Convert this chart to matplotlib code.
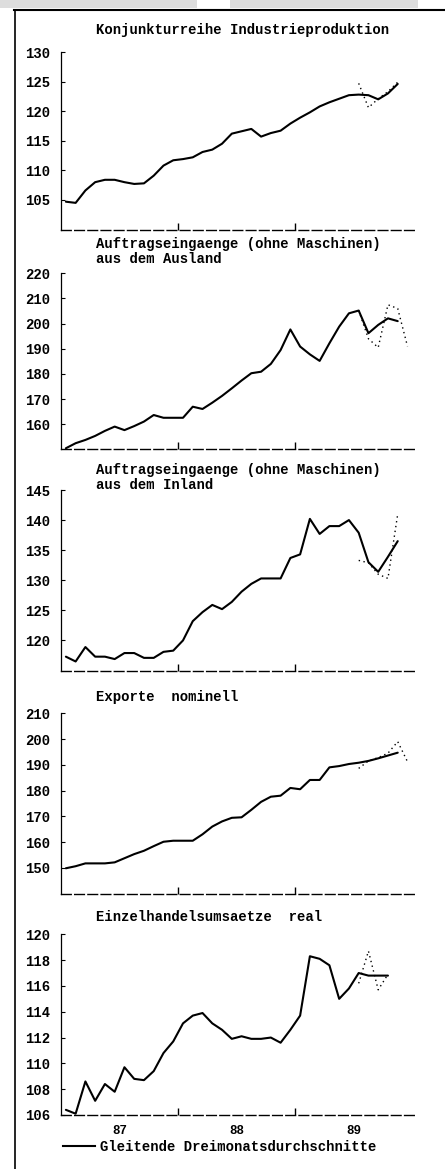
import matplotlib
matplotlib.use('Agg')
import matplotlib.pyplot as plt
from matplotlib.lines import Line2D
from matplotlib.patches import Rectangle

W, H, DPI = 445, 1169, 100
plt.rcParams['font.family'] = ['Liberation Mono', 'DejaVu Sans Mono']
plt.rcParams['font.weight'] = 'bold'
FS = 10

# ---------------- data (month index 0 = Jan 87) ----------------
year_labels = ['87', '88', '89']
legend_label = 'Gleitende Dreimonatsdurchschnitte'

title_ip = ['Konjunkturreihe Industrieproduktion']
ip_avg = [104.7, 104.5, 106.6, 108.0, 108.4, 108.4, 108.0, 107.7, 107.8, 109.1,
          110.8, 111.7, 111.9, 112.2, 113.1, 113.5, 114.5, 116.2, 116.6, 117.0,
          115.7, 116.3, 116.7, 117.9, 118.9, 119.8, 120.8, 121.5, 122.1, 122.7,
          122.8, 122.7, 122.0, 123.0, 124.6]
ip_month_start = 30
ip_monthly = [124.7, 120.6, 122.1, 123.3, 124.9]

title_ausl = ['Auftragseingaenge (ohne Maschinen)', 'aus dem Ausland']
ausl_avg = [150.5, 152.5, 153.8, 155.4, 157.4, 159.1, 157.7, 159.3, 161.1, 163.7,
            162.6, 162.6, 162.6, 167.0, 166.1, 168.6, 171.3, 174.3, 177.4, 180.3,
            180.9, 184.0, 189.5, 197.7, 190.9, 187.8, 185.2, 192.2, 198.8, 204.1,
            205.2, 196.2, 199.5, 202.1, 201.0]
ausl_month_start = 30
ausl_monthly = [205.2, 194.0, 190.5, 207.5, 206.0, 191.0]

title_inl = ['Auftragseingaenge (ohne Maschinen)', 'aus dem Inland']
inl_avg = [117.3, 116.5, 118.9, 117.3, 117.3, 116.9, 117.9, 117.9, 117.1, 117.1,
           118.1, 118.3, 120.0, 123.2, 124.7, 125.9, 125.2, 126.4, 128.1, 129.4,
           130.3, 130.3, 130.3, 133.7, 134.3, 140.2, 137.7, 139.0, 139.0, 140.0,
           137.9, 133.0, 131.4, 133.9, 136.5]
inl_month_start = 30
inl_monthly = [133.3, 132.9, 131.0, 130.3, 141.0]

title_exp = ['Exporte  nominell']
exp_avg = [149.8, 150.6, 151.7, 151.7, 151.7, 152.1, 153.7, 155.3, 156.6, 158.4,
           160.1, 160.5, 160.5, 160.5, 163.0, 166.0, 168.0, 169.4, 169.6, 172.5,
           175.6, 177.6, 178.0, 181.0, 180.5, 184.1, 184.1, 189.0, 189.5, 190.3,
           190.8, 191.5, 192.5, 193.6, 194.7]
exp_month_start = 30
exp_monthly = [188.6, 191.5, 192.8, 194.5, 199.0, 191.2]

title_ret = ['Einzelhandelsumsaetze  real']
ret_avg = [106.4, 106.1, 108.6, 107.1, 108.4, 107.8, 109.7, 108.8, 108.7, 109.4,
           110.8, 111.7, 113.1, 113.7, 113.9, 113.1, 112.6, 111.9, 112.1, 111.9,
           111.9, 112.0, 111.6, 112.6, 113.7, 118.3, 118.1, 117.6, 115.0, 115.8,
           117.0, 116.8, 116.8, 116.8]
ret_month_start = 30
ret_monthly = [116.2, 118.7, 115.7, 116.9]

panels = [
    # title lines, title y px, avg, monthly start, monthly, ymin, ymax, step, top px, bottom px
    (title_ip, [30], ip_avg, ip_month_start, ip_monthly, 100, 130, 5, 52, 229.5),
    (title_ausl, [244, 259], ausl_avg, ausl_month_start, ausl_monthly, 150, 220, 10, 273.3, 449.5),
    (title_inl, [470, 485], inl_avg, inl_month_start, inl_monthly, 115, 145, 5, 490, 670.5),
    (title_exp, [697], exp_avg, exp_month_start, exp_monthly, 140, 210, 10, 713.3, 893.5),
    (title_ret, [917], ret_avg, ret_month_start, ret_monthly, 106, 120, 2, 934.3, 1115),
]


def fx(px):
    return px / W


def fy(py):
    return 1 - py / H


fig = plt.figure(figsize=(W / DPI, H / DPI), dpi=DPI)
fig.patch.set_facecolor('white')

X0, X1 = 61, 415
for i, (tl, ty, avg, ms, mon, ymin, ymax, step, top, bot) in enumerate(panels):
    ax = fig.add_axes([fx(X0), fy(bot), fx(X1) - fx(X0), (bot - top) / H])
    ax.set_xlim(0, 36.27)
    ax.set_ylim(ymin, ymax)
    xs = [k + 0.5 for k in range(len(avg))]
    ax.plot(xs, avg, color='black', lw=1.5, solid_joinstyle='round',
            solid_capstyle='round', clip_on=False)
    xm = [ms + k + 0.5 for k in range(len(mon))]
    ax.plot(xm, mon, color='black', lw=1.0, ls=(0, (1, 2.5)), clip_on=False)
    ax.spines['top'].set_visible(False)
    ax.spines['right'].set_visible(False)
    ax.spines['left'].set_linewidth(0.9)
    ax.spines['bottom'].set_linewidth(1.0)
    ax.spines['bottom'].set_linestyle((0, (7, 2.5)))
    ax.set_facecolor('none')
    first = ymin + step if i != 4 else ymin
    ticks = list(range(int(first), int(ymax) + 1, int(step)))
    ax.set_yticks(ticks)
    ax.set_yticklabels([str(t) for t in ticks])
    ax.tick_params(axis='y', direction='in', length=3, width=0.8, pad=8,
                   labelsize=FS)
    ax.set_xticks([12, 24])
    ax.tick_params(axis='x', which='major', direction='in', length=5,
                   width=1.0, labelbottom=False)
    if i == 4:
        ax.set_xticks([6, 18, 30], minor=True)
        ax.set_xticklabels(year_labels, minor=True)
        ax.tick_params(axis='x', which='minor', length=0, pad=7,
                       labelsize=9, labelbottom=True)
        fig.legend(handles=[Line2D([], [], color='black', lw=1.5)],
                   labels=[legend_label], loc='center left',
                   bbox_to_anchor=(fx(63), fy(1147)), frameon=False,
                   handlelength=2.3, handletextpad=0.4, borderpad=0,
                   borderaxespad=0, fontsize=FS)
    for line, yy in zip(tl, ty):
        fig.text(fx(96), fy(yy), line, ha='left', va='center', fontsize=FS)

# page frame from the scanned source
fig.add_artist(Rectangle((0, fy(8)), fx(197), 8 / H, transform=fig.transFigure,
                         color='#dddddd', lw=0))
fig.add_artist(Rectangle((fx(230), fy(8)), fx(418) - fx(230), 8 / H,
                         transform=fig.transFigure, color='#dddddd', lw=0))
fig.add_artist(Line2D([fx(14), 1], [fy(10), fy(10)], transform=fig.transFigure,
                      color='black', lw=1.5))
fig.add_artist(Line2D([fx(14.5), fx(14.5)], [fy(10), 0], transform=fig.transFigure,
                      color='black', lw=1.2))

fig.savefig('out.png', dpi=DPI, facecolor='white')
